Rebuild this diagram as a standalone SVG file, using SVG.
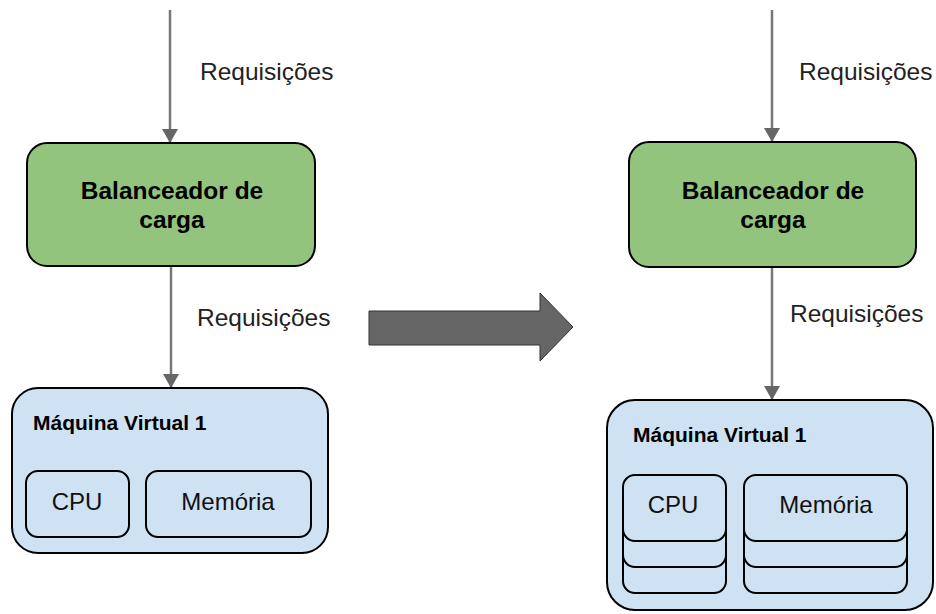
<svg xmlns="http://www.w3.org/2000/svg" width="936" height="614" viewBox="0 0 936 614">
  <style>
    .lb { fill: #93c47d; stroke: #000; stroke-width: 2; }
    .vm { fill: #cfe2f3; stroke: #000; stroke-width: 2; }
    .card { fill: #cfe2f3; stroke: #000; stroke-width: 2; }
    .edge { stroke: #777; stroke-width: 2.5; fill: none; }
    .lbl { font-family: "Liberation Sans", Arial, sans-serif; font-size: 24.5px; fill: #222; }
    .title { font-family: "Liberation Sans", Arial, sans-serif; font-size: 24.5px; font-weight: bold; fill: #000; text-anchor: middle; }
    .vmt { font-family: "Liberation Sans", Arial, sans-serif; font-size: 21px; font-weight: bold; fill: #000; }
    .res { font-family: "Liberation Sans", Arial, sans-serif; font-size: 24px; fill: #111; text-anchor: middle; }
  </style>
  <defs>
    <marker id="head" viewBox="0 0 14 18" refX="14" refY="9" markerWidth="14" markerHeight="18" markerUnits="userSpaceOnUse" orient="auto">
      <path d="M0,1 L14,9 L0,17 Z" fill="#666"/>
    </marker>
  </defs>

  <!-- connectors -->
  <g id="connectors">
    <line class="edge" x1="170" y1="10" x2="170" y2="143" marker-end="url(#head)"/>
    <line class="edge" x1="171" y1="267" x2="171" y2="388" marker-end="url(#head)"/>
    <line class="edge" x1="772" y1="10" x2="772" y2="142" marker-end="url(#head)"/>
    <line class="edge" x1="772" y1="268" x2="772" y2="400" marker-end="url(#head)"/>
    <text class="lbl" x="200" y="80">Requisições</text>
    <text class="lbl" x="197" y="326">Requisições</text>
    <text class="lbl" x="799" y="80">Requisições</text>
    <text class="lbl" x="790" y="322">Requisições</text>
  </g>

  <!-- transition arrow -->
  <g id="transition">
    <path d="M369,311 L540,311 L540,293 L573,327 L540,361 L540,345 L369,345 Z" fill="#666" stroke="#333" stroke-width="1"/>
  </g>

  <!-- before -->
  <g id="lb-left">
    <rect class="lb" x="27" y="143" width="288" height="123" rx="20"/>
    <text class="title" x="172" y="199">Balanceador de</text>
    <text class="title" x="172" y="228">carga</text>
  </g>
  <g id="vm-left">
    <rect class="vm" x="12" y="388" width="316" height="165" rx="26"/>
    <text class="vmt" x="33" y="430">Máquina Virtual 1</text>
  </g>
  <g id="cpu-left">
    <rect class="card" x="26" y="471" width="103" height="66" rx="12"/>
    <text class="res" x="77" y="510">CPU</text>
  </g>
  <g id="mem-left">
    <rect class="card" x="146" y="471" width="165" height="66" rx="12"/>
    <text class="res" x="228" y="510">Memória</text>
  </g>

  <!-- after -->
  <g id="lb-right">
    <rect class="lb" x="629" y="142" width="287" height="125" rx="20"/>
    <text class="title" x="773" y="199">Balanceador de</text>
    <text class="title" x="773" y="228">carga</text>
  </g>
  <g id="vm-right">
    <rect class="vm" x="607" y="400" width="326" height="210" rx="28"/>
    <text class="vmt" x="633" y="442">Máquina Virtual 1</text>
  </g>
  <g id="cpu-right">
    <rect class="card" x="623" y="527" width="103" height="66" rx="12"/>
    <rect class="card" x="623" y="501" width="103" height="66" rx="12"/>
    <rect class="card" x="623" y="475" width="103" height="66" rx="12"/>
    <text class="res" x="673" y="513">CPU</text>
  </g>
  <g id="mem-right">
    <rect class="card" x="744" y="527" width="163" height="66" rx="12"/>
    <rect class="card" x="744" y="501" width="163" height="66" rx="12"/>
    <rect class="card" x="744" y="475" width="163" height="66" rx="12"/>
    <text class="res" x="826" y="513">Memória</text>
  </g>
</svg>
